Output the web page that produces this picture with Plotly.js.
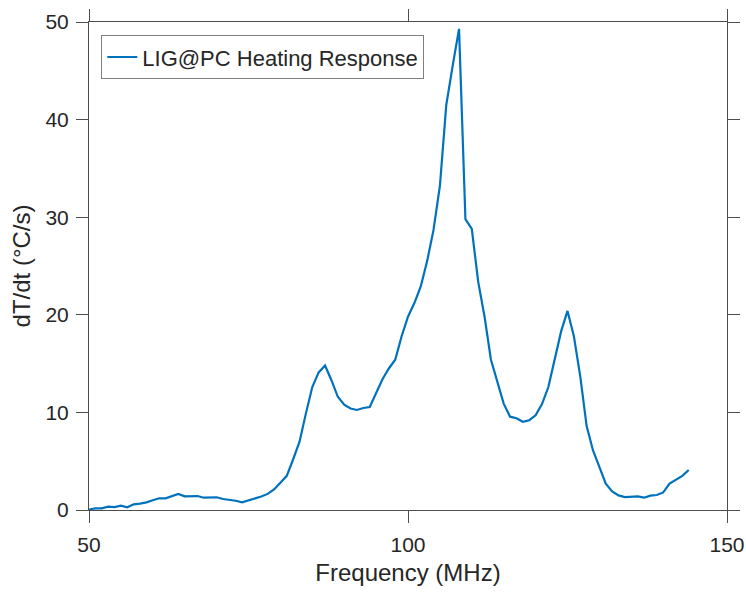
<!DOCTYPE html>
<html>
<head>
<meta charset="utf-8">
<script src="https://cdn.plot.ly/plotly-3.0.1.min.js"></script>
<style>
  html, body { margin: 0; padding: 0; background: #ffffff; }
  #chart { width: 746px; height: 592px; }
</style>
</head>
<body>
<div id="chart"></div>
<script>
// Frequency (MHz)
const frequency = [
  50, 51, 52, 53, 54, 55, 56, 57, 58, 59,
  60, 61, 62, 63, 64, 65, 66, 67, 68, 69,
  70, 71, 72, 73, 74, 75, 76, 77, 78, 79,
  80, 81, 82, 83, 84, 85, 86, 87, 88, 89,
  90, 91, 92, 93, 94, 95, 96, 97, 98, 99,
  100, 101, 102, 103, 104, 105, 106, 107, 108, 109,
  110, 111, 112, 113, 114, 115, 116, 117, 118, 119,
  120, 121, 122, 123, 124, 125, 126, 127, 128, 129,
  130, 131, 132, 133, 134, 135, 136, 137, 138, 139,
  140, 141, 142, 143, 144
];
// dT/dt (°C/s)
const heatingRate = [
  0.05, 0.17, 0.17, 0.34, 0.30, 0.44, 0.27, 0.58, 0.65, 0.78,
  1.00, 1.20, 1.20, 1.40, 1.65, 1.40, 1.42, 1.43, 1.26, 1.26,
  1.30, 1.13, 1.05, 0.95, 0.78, 0.98, 1.15, 1.38, 1.65, 2.10,
  2.80, 3.50, 5.20, 7.00, 9.90, 12.6, 14.1, 14.8, 13.3, 11.6,
  10.8, 10.4, 10.25, 10.45, 10.55, 12.0, 13.4, 14.5, 15.4, 17.8,
  19.8, 21.2, 22.9, 25.5, 28.7, 33.2, 41.5, 45.5, 49.3, 29.8,
  28.8, 23.4, 19.8, 15.4, 13.2, 10.9, 9.56, 9.40, 9.04, 9.20,
  9.70, 10.85, 12.6, 15.4, 18.3, 20.4, 17.8, 13.7, 8.6, 6.1,
  4.4, 2.7, 1.9, 1.5, 1.33, 1.33, 1.40, 1.26, 1.47, 1.54,
  1.80, 2.70, 3.10, 3.50, 4.10
];
const seriesName = "LIG@PC Heating Response";
const xTicks = [50, 100, 150];
const yTicks = [0, 10, 20, 30, 40, 50];

const fontFamily = "Liberation Sans, Arial, Helvetica, sans-serif";

const trace = {
  x: frequency,
  y: heatingRate,
  type: "scatter",
  mode: "lines",
  name: seriesName,
  line: { color: "#0072BD", width: 2.2 },
  showlegend: true
};

const axisCommon = {
  showgrid: false,
  zeroline: false,
  showline: true,
  linecolor: "#4d4d4d",
  linewidth: 1,
  mirror: "allticks",
  ticks: "outside",
  ticklen: 12,
  tickwidth: 1,
  tickcolor: "#4d4d4d",
  tickfont: { family: fontFamily, size: 21, color: "#262626" }
};

const layout = {
  width: 746,
  height: 592,
  margin: { l: 89, r: 19, t: 22, b: 82 },
  paper_bgcolor: "#ffffff",
  plot_bgcolor: "#ffffff",
  showlegend: true,
  legend: {
    x: 0.0193, y: 0.973, xanchor: "left", yanchor: "top",
    bgcolor: "#ffffff",
    bordercolor: "#7f7f7f",
    borderwidth: 1,
    font: { family: fontFamily, size: 22, color: "#262626" }
  },
  xaxis: Object.assign({}, axisCommon, {
    range: [50, 150],
    tickvals: xTicks,
    ticktext: xTicks.map(String),
    ticklabelstandoff: 4,
    title: { text: "Frequency (MHz)", font: { family: fontFamily, size: 24, color: "#262626" }, standoff: 8 }
  }),
  yaxis: Object.assign({}, axisCommon, {
    range: [0, 50],
    tickvals: yTicks,
    ticktext: yTicks.map(String),
    ticklabelstandoff: 3,
    title: { text: "dT/dt (°C/s)", font: { family: fontFamily, size: 24, color: "#262626" }, standoff: 8 }
  })
};

Plotly.newPlot("chart", [trace], layout, { displayModeBar: false, staticPlot: true });
</script>
</body>
</html>
